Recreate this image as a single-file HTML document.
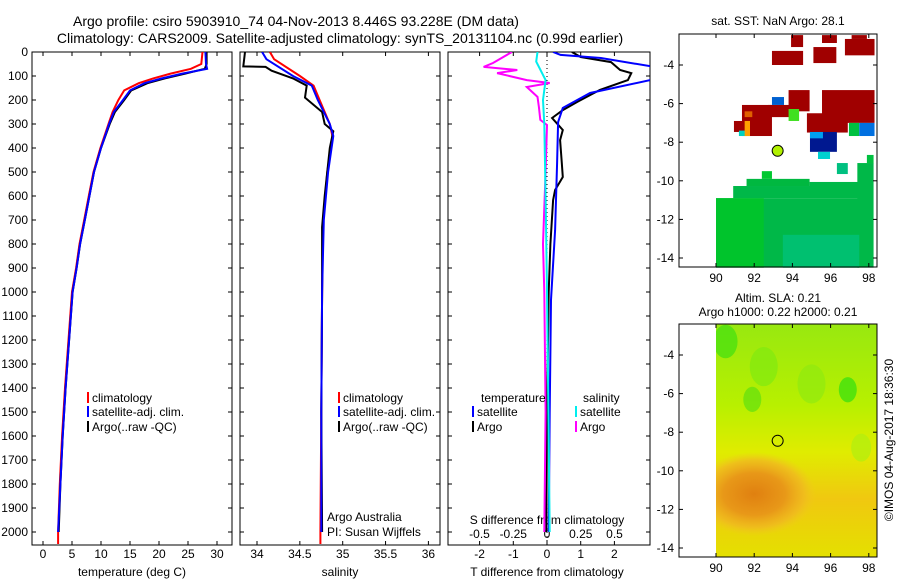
<!DOCTYPE html>
<html><head><meta charset="utf-8"><style>
body{margin:0;background:#fff;}
svg{display:block;font-family:"Liberation Sans",sans-serif;}
</style></head><body>
<svg id="fig" width="900" height="580" viewBox="0 0 900 580">
<text x="296" y="26" font-size="14" text-anchor="middle">Argo profile: csiro 5903910_74 04-Nov-2013 8.446S 93.228E (DM data)</text>
<text x="340" y="43" font-size="14" text-anchor="middle">Climatology: CARS2009. Satellite-adjusted climatology: synTS_20131104.nc (0.99d earlier)</text>
<text x="778" y="25" font-size="12" text-anchor="middle">sat. SST: NaN Argo: 28.1</text>
<text x="778" y="302" font-size="12" text-anchor="middle">Altim. SLA: 0.21</text>
<text x="778" y="316" font-size="12" text-anchor="middle">Argo h1000: 0.22 h2000: 0.21</text>
<text transform="translate(893,440) rotate(-90)" font-size="12" text-anchor="middle">©IMOS 04-Aug-2017 18:36:30</text>
<g id="g"></g>
</svg>
<script>
// ---- data ----
const tDepth=[0,50,70,90,110,130,160,200,250,300,400,500,600,700,800,900,1000,1200,1400,1600,1800,2000];
const tArgo=[28.2,28.2,27.9,24.5,21,18,15.2,14,12.4,11.5,10,8.8,8,7.2,6.4,5.8,5.1,4.5,3.9,3.4,3.0,2.7];
const tSat=[28,28.1,28.3,24,20.5,17.5,15,13.8,12.2,11.4,10,8.8,8,7.2,6.4,5.8,5.1,4.5,3.9,3.4,3.0,2.6];
const tClimDepth=[0,50,70,90,110,130,160,200,250,300,400,500,600,700,800,900,1000,1200,1400,1600,1800,2000,2050];
const tClim=[27.5,27.3,25.5,22,19,16.5,14,13,12,11.3,9.9,8.7,7.9,7.1,6.3,5.7,5.0,4.4,3.8,3.3,2.9,2.6,2.6];
const sArgoDepth=[0,60,62,78,110,140,190,250,300,330,400,600,730,1000,1500,2000];
const sArgo=[33.86,33.84,34.1,34.17,34.42,34.58,34.56,34.76,34.79,34.89,34.85,34.79,34.76,34.76,34.75,34.76];
const sSatDepth=[0,30,100,140,200,300,350,500,700,1000,1500,2000];
const sSat=[34.06,34.11,34.42,34.64,34.71,34.85,34.89,34.83,34.78,34.76,34.75,34.75];
const sClimDepth=[0,30,100,140,200,300,350,500,700,1000,1500,2000,2050];
const sClim=[34.15,34.2,34.5,34.66,34.73,34.85,34.88,34.82,34.77,34.76,34.75,34.74,34.74];
const dTSatDepth=[0,12,25,60,80,110,117,171,233,292,462,742,1033,1500,2000];
const dTSat=[0.18,0.4,1.6,3.1,3.6,3.6,3.06,1.28,0.47,0.33,0.3,0.24,0.12,0.08,0.05];
const dTArgoDepth=[0,21,42,75,88,117,158,208,242,275,325,367,462,521,575,617,800,1000,1500,2000];
const dTArgo=[0.74,1.0,1.9,2.17,2.5,2.4,1.57,0.9,0.47,0.15,0.47,0.39,0.44,0.47,0.24,0.18,0.1,0.05,0.0,-0.02];
const dSSatDepth=[0,40,117,200,300,600,1000,1500,2000];
const dSSat=[-0.07,-0.08,-0.01,-0.03,-0.02,-0.01,0.0,0.01,0.02];
const dSArgoDepth=[0,46,62,75,88,117,129,146,187,229,283,304,500,800,1000,1500,2000];
const dSArgo=[-0.26,-0.4,-0.47,-0.22,-0.37,-0.15,0.02,-0.15,-0.07,-0.06,-0.05,0,-0.01,-0.03,-0.02,-0.01,-0.02];
const depthTicks=[0,100,200,300,400,500,600,700,800,900,1000,1100,1200,1300,1400,1500,1600,1700,1800,1900,2000];
const tTicks=[0,5,10,15,20,25,30];
const sTicks=[34,34.5,35,35.5,36];
const sTickLabels=["34","34.5","35","35.5","36"];
const dTTicks=[-2,-1,0,1,2];
const dSTicks=[-0.5,-0.25,0,0.25,0.5];
const dSTickLabels=["-0.5","-0.25","0","0.25","0.5"];
const lonTicks=[90,92,94,96,98];
const latTicks=[-4,-6,-8,-10,-12,-14];

const NS="http://www.w3.org/2000/svg";
const G=document.getElementById('g');
function el(t,a,p){const e=document.createElementNS(NS,t);for(const k in a)e.setAttribute(k,a[k]);(p||G).appendChild(e);return e;}
const top0=52,bot=545;
const yD=d=>top0+d*0.24;
const xT=v=>43+v*5.8;
const xS=v=>257+(v-34)*85.7;
const xdT=v=>547+v*33.7;
const xdS=v=>547+v*135;
const panels=[[32,232],[240,440],[448,650]];
panels.forEach((p,i)=>{
  const r=el('rect',{x:p[0],y:top0,width:p[1]-p[0],height:bot-top0,fill:'none',stroke:'#000','stroke-width':1});
  
  
  const cp=el('clipPath',{id:'c'+i});el('rect',{x:p[0],y:top0,width:p[1]-p[0],height:bot-top0},cp);
  depthTicks.forEach(d=>{
    el('line',{x1:p[0],x2:p[0]+4,y1:yD(d),y2:yD(d),stroke:'#000'});
    el('line',{x1:p[1],x2:p[1]-4,y1:yD(d),y2:yD(d),stroke:'#000'});
  });
});
depthTicks.forEach(d=>{const t=el('text',{x:28,y:yD(d)+4,'font-size':12,'text-anchor':'end'});t.textContent=d;

});
function xticks(ticks,labels,fx,y){ticks.forEach((v,i)=>{const x=fx(v);
 el('line',{x1:x,x2:x,y1:bot,y2:bot-4,stroke:'#000'});el('line',{x1:x,x2:x,y1:top0,y2:top0+4,stroke:'#000'});
 const t=el('text',{x:x,y:y,'font-size':12,'text-anchor':'middle'});t.textContent=labels[i];
 
 });}
xticks(tTicks,tTicks.map(String),xT,558);
xticks(sTicks,sTickLabels,xS,558);
xticks(dTTicks,dTTicks.map(String),xdT,558);
dSTicks.forEach((v,i)=>{const t=el('text',{x:xdS(v),y:538,'font-size':12,'text-anchor':'middle'});t.textContent=dSTickLabels[i];

});
function lbl(x,y,s,name){const t=el('text',{x:x,y:y,'font-size':12,'text-anchor':'middle'});t.textContent=s;

}
lbl(132,576,'temperature (deg C)','x-axis-title-temperature');
lbl(340,576,'salinity','x-axis-title-salinity');
lbl(547,576,'T difference from climatology','x-axis-title-t-diff');
lbl(547,524,'S difference from climatology','s-diff-axis-title');
function line(xs,ds,fx,col,w,ci,name){
  const pts=xs.map((v,i)=>fx(v).toFixed(1)+','+yD(ds[i]).toFixed(1)).join(' ');
  const e=el('polyline',{points:pts,fill:'none',stroke:col,'stroke-width':w,'clip-path':'url(#c'+ci+')'});
  
  
}
line(tClim,tClimDepth,xT,'#f00',2,0,'temp-climatology-line');
line(tArgo,tDepth,xT,'#000',2,0,'temp-argo-line');
line(tSat,tDepth,xT,'#00f',2,0,'temp-satellite-line');
line(sClim,sClimDepth,xS,'#f00',2,1,'sal-climatology-line');
line(sArgo,sArgoDepth,xS,'#000',2,1,'sal-argo-line');
line(sSat,sSatDepth,xS,'#00f',2,1,'sal-satellite-line');
el('line',{x1:547,x2:547,y1:top0,y2:bot,stroke:'#000','stroke-dasharray':'1,3'});
line(dTArgo,dTArgoDepth,xdT,'#000',2,2,'tdiff-argo-line');
line(dTSat,dTSatDepth,xdT,'#00f',2,2,'tdiff-satellite-line');
line(dSArgo,dSArgoDepth,xdS,'#f0f',2,2,'sdiff-argo-line');
line(dSSat,dSSatDepth,xdS,'#0ee',2,2,'sdiff-satellite-line');
function leg(x,y,col,s,name){el('rect',{x:x,y:y-10,width:2,height:11,fill:col});const t=el('text',{x:x+5,y:y,'font-size':12});t.textContent=s;

}
[[87,0],[338,1]].forEach(([x,k])=>{leg(x,402,'#f00','climatology','legend-climatology');leg(x,416,'#00f','satellite-adj. clim.','legend-satellite');leg(x,431,'#000','Argo(..raw -QC)','legend-argo');});
{const t=el('text',{x:481,y:402,'font-size':12});t.textContent='temperature';}
{const t=el('text',{x:583,y:402,'font-size':12});t.textContent='salinity';}
leg(472,416,'#00f','satellite','legend-t-satellite');leg(472,431,'#000','Argo','legend-t-argo');
leg(575,416,'#0ee','satellite','legend-s-satellite');leg(575,431,'#f0f','Argo','legend-s-argo');
{const t=el('text',{x:327,y:521,'font-size':12});t.textContent='Argo Australia';}
{const t=el('text',{x:327,y:536,'font-size':12});t.textContent='PI: Susan Wijffels';}

// ---- maps ----
const mapX=lon=>716+(lon-90)*19.1;
function mapFrame(y0,y1,latY,name){
  const r=el('rect',{x:679,y:y0,width:198,height:y1-y0,fill:'none',stroke:'#000'});
  
  
  lonTicks.forEach(l=>{const x=mapX(l);el('line',{x1:x,x2:x,y1:y1,y2:y1-4,stroke:'#000'});el('line',{x1:x,x2:x,y1:y0,y2:y0+4,stroke:'#000'});
   const t=el('text',{x:x,y:y1+15,'font-size':12,'text-anchor':'middle'});t.textContent=l;
   
   });
  latTicks.forEach(l=>{const y=latY(l);el('line',{x1:679,x2:683,y1:y,y2:y,stroke:'#000'});el('line',{x1:877,x2:873,y1:y,y2:y,stroke:'#000'});
   const t=el('text',{x:674,y:y+4,'font-size':12,'text-anchor':'end'});t.textContent=l;
   
   });
}
const yA=lat=>65+(-4-lat)*19.3;
const yB=lat=>355+(-4-lat)*19.3;
// SST map patches: [lon0,lat0,lon1,lat1,color]
const R='#a00000';
const sstPatches=[
[90,-10.9,97.5,-14.5,'#00b848'],[90,-10.9,92.5,-14.5,'#00c42c'],[90.9,-10.27,97.5,-10.9,'#00b848'],[91.6,-9.9,94.9,-10.27,'#00b840'],[92.4,-9.5,92.93,-9.9,'#00c830'],
[94.9,-10.06,97.5,-10.3,'#00b848'],[97.4,-9.08,98.25,-14.5,'#00b848'],[97.9,-8.66,98.25,-9.1,'#00c040'],[96.33,-9.08,96.9,-9.65,'#00c080'],
[93.5,-12.8,97.5,-14.5,'#00c070'],
[93.93,-2.45,94.56,-3.07,R],[95.55,-2.45,96.33,-2.86,R],[97.1,-2.45,97.9,-2.65,R],[92.93,-3.27,94.56,-4.0,R],[95.1,-3.07,96.3,-3.9,R],[96.75,-2.65,98.3,-3.5,R],
[93.8,-5.3,94.9,-6.4,R],[95.55,-5.3,98.3,-6.85,R],[94.76,-6.5,96.9,-7.5,R],[91.36,-6.07,92.93,-7.68,R],[90.94,-6.9,91.78,-7.47,R],[92.72,-6.07,93.98,-6.7,R],
[96.75,-6.85,98.3,-7.0,R],
[92.93,-5.66,93.56,-6.07,'#0060d0'],[93.8,-6.28,94.35,-6.9,'#40e020'],[96.96,-7.0,97.5,-7.68,'#00c040'],[97.5,-7.0,98.3,-7.68,'#0070e0'],
[94.92,-7.47,96.33,-8.5,'#001890'],[94.92,-7.47,95.6,-7.8,'#00a0f0'],[95.34,-8.5,95.97,-8.87,'#00d0d0'],[91.2,-7.4,91.6,-7.68,'#00d0c0'],[91.5,-6.9,91.78,-7.68,'#ffa000'],[91.5,-6.4,91.9,-6.7,'#e06000']
];
sstPatches.forEach(p=>{const r=el('rect',{x:mapX(p[0]),y:yA(p[1]),width:mapX(p[2])-mapX(p[0]),height:yA(p[3])-yA(p[1]),fill:p[4]});

});
// SLA map
const dfs=el('defs',{});
const rg=el('radialGradient',{id:'blob',cx:'0.5',cy:'0.5',r:'0.5'},dfs);
el('stop',{offset:'0','stop-color':'#e08010'},rg);el('stop',{offset:'0.5','stop-color':'#e89818'},rg);el('stop',{offset:'0.8','stop-color':'#f0b820','stop-opacity':'0.8'},rg);el('stop',{offset:'1','stop-color':'#f0c820','stop-opacity':'0'},rg);
const lg=el('linearGradient',{id:'slabg',x1:0,y1:0,x2:0,y2:1},dfs);
el('stop',{offset:'0','stop-color':'#98e810'},lg);el('stop',{offset:'0.35','stop-color':'#b8f000'},lg);el('stop',{offset:'0.55','stop-color':'#e0ec00'},lg);el('stop',{offset:'0.75','stop-color':'#f0c810'},lg);el('stop',{offset:'1','stop-color':'#e4e000'},lg);
const slaClip=el('clipPath',{id:'slaclip'},dfs);
el('rect',{x:mapX(90),y:324,width:877-mapX(90),height:233},slaClip);
const slaG=el('g',{'clip-path':'url(#slaclip)'});


el('rect',{x:mapX(90),y:324,width:877-mapX(90),height:233,fill:'url(#slabg)'},slaG);
el('ellipse',{cx:mapX(92),cy:yB(-11.2),rx:62,ry:42,fill:'url(#blob)'},slaG);
[[90.5,-3.3,12,'#40e010'],[96.9,-5.8,9,'#30e010'],[91.9,-6.3,9,'#60e010'],[97.6,-8.8,10,'#b0ee10'],[92.5,-4.6,14,'#80ea10'],[95,-5.5,14,'#90ea10']].forEach(p=>el('ellipse',{cx:mapX(p[0]),cy:yB(p[1]),rx:p[2],ry:p[2]*1.4,fill:p[3],opacity:0.7},slaG));
mapFrame(34,267,yA,'sst-map-frame');
mapFrame(324,557,yB,'sla-map-frame');
{const c=el('circle',{cx:mapX(93.228),cy:yA(-8.446),r:5.5,fill:'#b0f000',stroke:'#000'});}
{const c=el('circle',{cx:mapX(93.228),cy:yB(-8.446),r:5.5,fill:'none',stroke:'#000'});}
</script>
</body></html>
